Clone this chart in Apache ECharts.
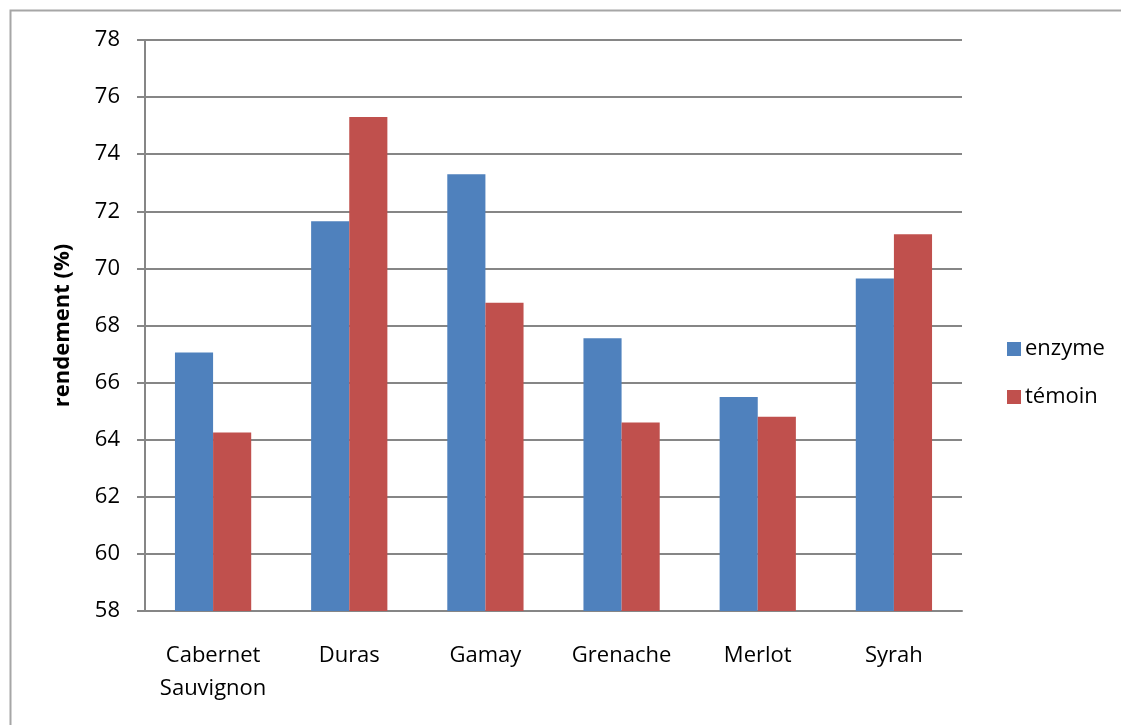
<!DOCTYPE html>
<html>
<head>
<meta charset="utf-8">
<script src="https://cdn.jsdelivr.net/npm/echarts@6/dist/echarts.min.js"></script>
<style>
  html, body { margin: 0; padding: 0; background: #fff; }
  #chart { width: 1121px; height: 725px; }
</style>
</head>
<body>
<div id="chart"></div>
<script>
// Grape varieties on the category axis
const categories = ['Cabernet\nSauvignon', 'Duras', 'Gamay', 'Grenache', 'Merlot', 'Syrah'];
// Yield (%) with enzyme treatment
const enzyme = [67.05, 71.65, 73.3, 67.55, 65.5, 69.65];
// Yield (%) for the untreated control
const temoin = [64.25, 75.3, 68.8, 64.6, 64.8, 71.2];
// Value axis range
const yMin = 58, yMax = 78, yStep = 2;

const FONT = '"Open Sans", Lato, sans-serif';
const chart = echarts.init(document.getElementById('chart'), null, { renderer: 'canvas' });

chart.setOption({
  animation: false,
  backgroundColor: '#ffffff',
  graphic: [{
    type: 'rect',
    shape: { x: 10.5, y: 10.5, width: 1200, height: 800 },
    style: { fill: 'none', stroke: '#a6a6a6', lineWidth: 2 },
    silent: true
  }],
  grid: { left: 145, right: 159, top: 40, bottom: 114, containLabel: false },
  legend: {
    orient: 'vertical',
    left: 1002,
    top: 333,
    itemWidth: 14,
    itemHeight: 14,
    itemGap: 26,
    icon: 'rect',
    textStyle: { fontFamily: FONT, fontSize: 22, color: '#000', padding: [0, 0, 0, -1] },
    data: ['enzyme', 'témoin']
  },
  xAxis: {
    type: 'category',
    data: categories,
    axisLine: { lineStyle: { color: '#868686', width: 2 } },
    axisTick: { show: false },
    axisLabel: {
      fontFamily: FONT, fontSize: 22, color: '#000',
      margin: 28, lineHeight: 33, interval: 0
    }
  },
  yAxis: {
    type: 'value',
    min: yMin, max: yMax, interval: yStep,
    name: 'rendement (%)',
    nameLocation: 'middle',
    nameGap: 71,
    nameTextStyle: { fontFamily: FONT, fontSize: 22, fontWeight: 'bold', color: '#000' },
    axisLine: { show: true, lineStyle: { color: '#868686', width: 2 } },
    axisTick: { show: true, length: 8, lineStyle: { color: '#868686', width: 2 } },
    axisLabel: { fontFamily: FONT, fontSize: 22, color: '#000', margin: 25 },
    splitLine: { show: true, lineStyle: { color: '#868686', width: 2 } }
  },
  series: [
    {
      name: 'enzyme', type: 'bar', data: enzyme,
      barGap: '0%', barCategoryGap: '44%',
      itemStyle: { color: '#4f81bd' }
    },
    {
      name: 'témoin', type: 'bar', data: temoin,
      barGap: '0%', barCategoryGap: '44%',
      itemStyle: { color: '#c0504d' }
    }
  ]
});
</script>
</body>
</html>
